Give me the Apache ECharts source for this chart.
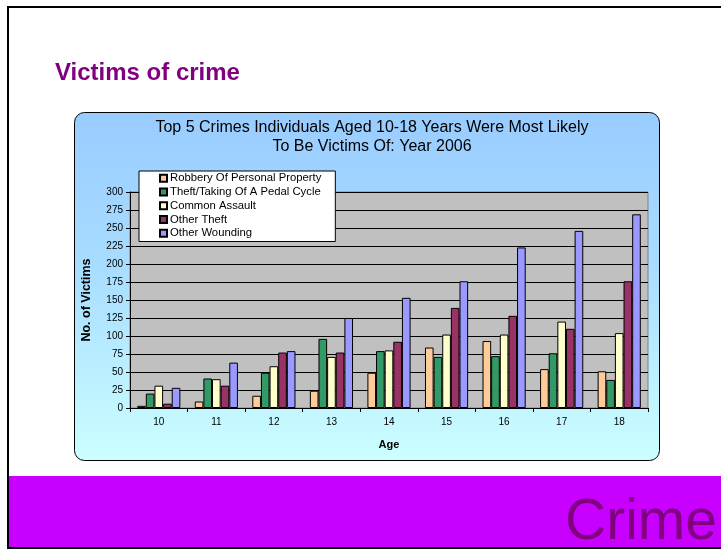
<!DOCTYPE html>
<html><head><meta charset="utf-8">
<script src="https://cdn.jsdelivr.net/npm/echarts@6/dist/echarts.min.js"></script>
<style>html,body{margin:0;padding:0;background:#fff}#c{width:721px;height:550px}</style>
</head><body><div id="c"></div>
<script>
const ages = ['10','11','12','13','14','15','16','17','18'];
const seriesNames = ['Robbery Of Personal Property','Theft/Taking Of A Pedal Cycle','Common Assault','Other Theft','Other Wounding'];
const robbery = [3, 9, 17, 24, 49, 84, 93, 54, 51];
const pedalCycle = [20, 41, 49, 96, 79, 71, 72, 76, 39];
const commonAssault = [31, 40, 58, 71, 80, 102, 102, 120, 104];
const otherTheft = [6, 31, 77, 77, 92, 139, 128, 110, 176];
const otherWounding = [28, 63, 79, 125, 153, 176, 223, 246, 269];
const colors = ['#FFCC99','#339966','#FFFFCC','#993366','#9999FF'];
const allData = [robbery, pedalCycle, commonAssault, otherTheft, otherWounding];

const font = 'Liberation Sans, Arial, sans-serif';
const chart = echarts.init(document.getElementById('c'), null, {renderer:'canvas'});
chart.setOption({
  animation: false,
  textStyle: {fontFamily: font},
  graphic: {
    z: -10,
    elements: [
      {type:'rect', z:-10, shape:{x:8, y:7, width:800, height:541}, style:{fill:'#fff', stroke:'#000', lineWidth:2}},
      {type:'rect', z:-9, shape:{x:9, y:476, width:800, height:71}, style:{fill:'#C800FF'}},
      {type:'text', z:-8, left:565, top:495, style:{text:'Crime', fill:'#80007F', font:'57px Liberation Sans, Arial, sans-serif'}},
      {type:'text', z:-8, left:55, top:61, style:{text:'Victims of crime', fill:'#800080', font:'bold 24px Liberation Sans, Arial, sans-serif'}},
      {type:'rect', z:-9, shape:{x:74.5, y:112.5, width:585, height:348, r:10},
        style:{stroke:'#000', lineWidth:1,
          fill:{type:'linear', x:0, y:0, x2:0, y2:1, colorStops:[{offset:0,color:'#99CCFF'},{offset:0.45,color:'#A8DDFF'},{offset:1,color:'#CCFFFF'}]}}}
    ]
  },
  title: {
    text: 'Top 5 Crimes Individuals Aged 10-18 Years Were Most Likely\nTo Be Victims Of: Year 2006',
    left: 367, top: 113, textAlign: 'center',
    textStyle: {fontSize: 16, fontWeight: 'normal', color: '#000', lineHeight: 19, fontFamily: font}
  },
  legend: {
    orient: 'vertical', left: 139, top: 171,
    data: seriesNames,
    itemWidth: 7, itemHeight: 7, itemGap: 1,
    backgroundColor: '#fff', borderColor: '#000', borderWidth: 1,
    padding: [1, 14, 2, 20],
    icon: 'rect',
    textStyle: {fontSize: 11.3, color: '#000', lineHeight: 12.7, fontFamily: font, padding:[0,0,0,-2]}
  },
  grid: {left: 130, right: 73, top: 192, bottom: 142, show: true, backgroundColor: '#C0C0C0', borderColor: '#808080', borderWidth: 1},
  xAxis: {
    type: 'category', data: ages,
    name: 'Age', nameLocation: 'middle', nameGap: 31,
    nameTextStyle: {fontSize: 11, fontWeight: 'bold', color: '#000', fontFamily: font},
    axisLine: {show: true, lineStyle: {color: '#000'}},
    axisTick: {show: true, length: 4, lineStyle: {color: '#000'}},
    axisLabel: {fontSize: 10, color: '#000', margin: 9, fontFamily: font}
  },
  yAxis: {
    type: 'value', min: 0, max: 300, interval: 25,
    name: 'No. of Victims', nameLocation: 'middle', nameGap: 37,
    nameTextStyle: {fontSize: 12.5, fontWeight: 'bold', color: '#000', fontFamily: font},
    axisLine: {show: true, lineStyle: {color: '#000'}},
    axisTick: {show: true, length: 4, lineStyle: {color: '#000'}},
    axisLabel: {fontSize: 10, color: '#000', margin: 7, fontFamily: font},
    splitLine: {show: true, lineStyle: {color: '#000', width: 1}}
  },
  series: seriesNames.map((n, i) => ({
    name: n, type: 'bar', data: allData[i],
    barGap: '0%', barCategoryGap: '25%',
    itemStyle: {color: colors[i], borderColor: '#000', borderWidth: 1}
  }))
});
</script></body></html>
